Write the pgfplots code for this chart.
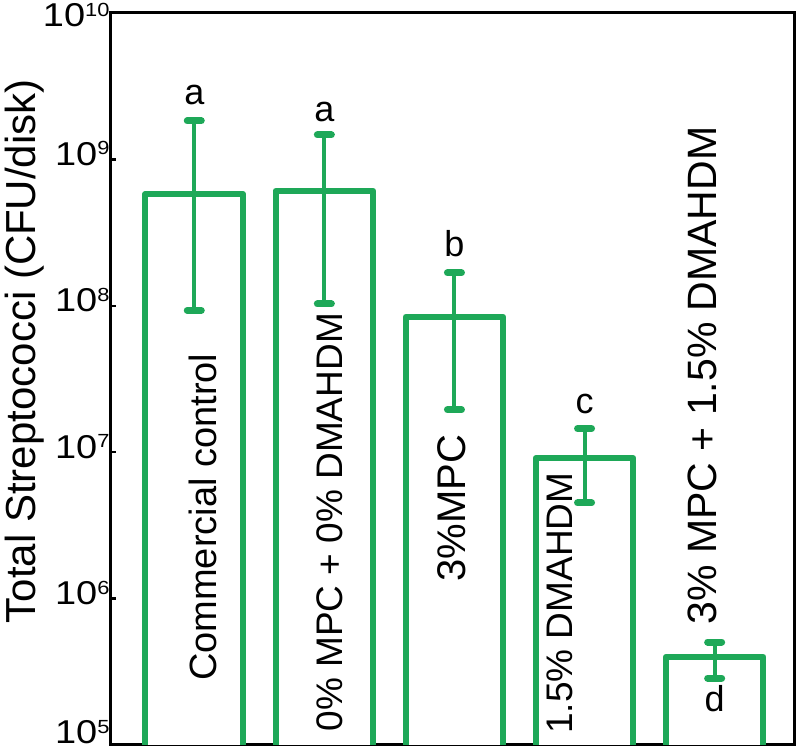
\documentclass[border=0pt]{standalone}
\usepackage{graphicx}
\usepackage{fontspec}
\setmainfont{Liberation Sans}
\usepackage{pgfplots}
\usepackage{pgfplotstable}
\pgfplotsset{compat=1.18}
\definecolor{barg}{RGB}{30,168,88}
\newcommand{\tlab}[1]{\scalebox{1.15}[1]{10\raisebox{10.5pt}{\fontsize{19}{19}\selectfont #1}}}
\pgfplotstableread{
x y ep em
1 5.8e8 1.25e9 4.87e8
2 6.1e8 8.6e8 5.07e8
3 8.4e7 8.4e7 6.45e7
4 9.1e6 5.4e6 4.6e6
5 4.0e5 1.05e5 1.14e5
}\datatable
\begin{document}
\begin{tikzpicture}[x=1pt,y=1pt]
\useasboundingbox (0,0) rectangle (800,752);
\begin{axis}[
  at={(111pt,7pt)}, anchor=south west,
  width=683pt, height=732pt, scale only axis,
  ymode=log, ymin=1e5, ymax=1e10,
  xmin=0.36, xmax=5.61,
  xtick=\empty,
  ytick={1e5,1e6,1e7,1e8,1e9,1e10},
  yticklabels={\raisebox{7pt}{\tlab{5}},\tlab{6},\tlab{7},\tlab{8},\tlab{9},\raisebox{-8pt}{\tlab{10}}},
  ytick pos=left,
  yminorticks=false,
  tick align=inside,
  major tick length=5pt,
  tick style={black, line width=2.5pt},
  axis line style={black, line width=3pt},
  yticklabel style={font=\fontsize{33}{36}\selectfont, anchor=base east, yshift=-6pt, xshift=2pt},
  ylabel={Total Streptococci (CFU/disk)},
  ylabel style={font=\fontsize{42}{48}\selectfont, at={(axis description cs:-0.126,0.538)}, anchor=center},
  ybar, bar width=0.75,
]
\addplot[draw=barg, fill=white, line width=6pt, line join=round,
  error bars/.cd, y dir=both, y explicit,
  error bar style={line width=4pt, barg},
  error mark options={rotate=90, mark size=7pt, line width=7pt, line cap=round, barg}]
  table[x=x, y=y, y error plus=ep, y error minus=em]{\datatable};
\begin{scope}[every node/.style={font=\fontsize{36}{40}\selectfont}]
\node at (axis cs:1,2.76e9) {a};
\node at (axis cs:2,2.11e9) {a};
\node at (axis cs:3,2.65e8) {b};
\node at (axis cs:4,2.15e7) {c};
\node at (axis cs:5,2.06e5) {d};
\end{scope}
\begin{scope}[every node/.style={rotate=90, anchor=center}]
\node[font=\fontsize{38}{42}\selectfont] at (axis cs:1.067,3.59e6) {Commercial control};
\node[font=\fontsize{37}{42}\selectfont] at (axis cs:2.043,3.32e6) {0\% MPC + 0\% DMAHDM};
\node[font=\fontsize{40}{44}\selectfont] at (axis cs:2.981,4.14e6) {3\%MPC};
\node[font=\fontsize{37}{42}\selectfont] at (axis cs:3.811,9.3e5) {1.5\% DMAHDM};
\node[font=\fontsize{41}{44}\selectfont] at (axis cs:4.903,3.34e7) {3\% MPC + 1.5\% DMAHDM};
\end{scope}
\end{axis}
\end{tikzpicture}
\end{document}
